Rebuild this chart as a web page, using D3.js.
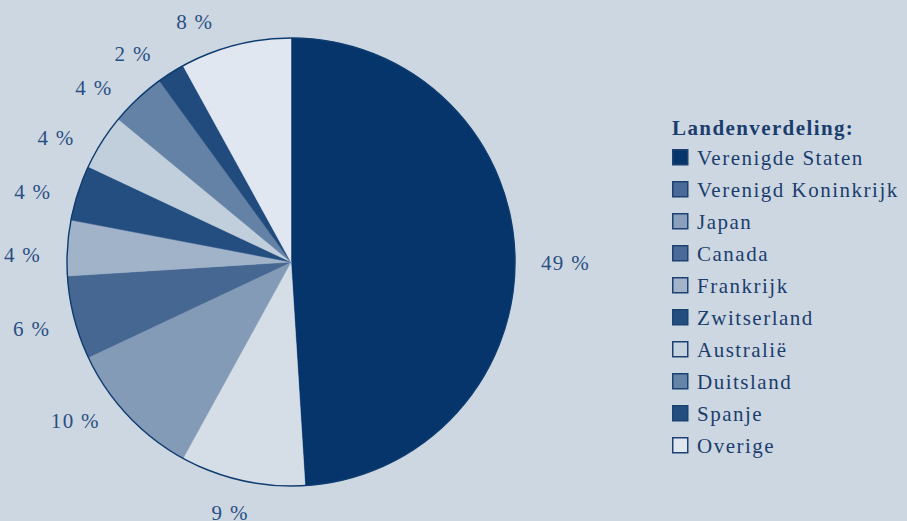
<!DOCTYPE html>
<html>
<head>
<meta charset="utf-8">
<script src="https://cdn.jsdelivr.net/npm/d3@7"></script>
<style>
  html, body { margin: 0; padding: 0; background: #cdd7e1; }
  svg { display: block; }
  text { font-family: "Liberation Serif", "Times New Roman", "DejaVu Serif", serif; }
</style>
</head>
<body>
<svg id="chart" width="907" height="521"></svg>
<script>
// Country breakdown (percent of total)
const countries = ["Verenigde Staten", "Verenigd Koninkrijk", "Japan", "Canada", "Frankrijk",
                   "Zwitserland", "Australië", "Duitsland", "Spanje", "Overige"];
const shares = [49, 9, 10, 6, 4, 4, 4, 4, 2, 8];
const sliceColors = ["#06356b", "#d5dee7", "#849bb8", "#456791", "#a1b3c9",
                     "#244e80", "#c1cedc", "#6382a6", "#214b7c", "#e0e7f0"];
const swatchColors = ["#06356b", "#4a6b97", "#8aa0bc", "#4a6b97", "#a3b4ca",
                      "#244e80", "#c6d2df", "#6683a8", "#244e80", "#e0e7f0"];
const legendTitle = "Landenverdeling:";

// small angular nudges (degrees) so the percentage labels sit clear of each other
const labelNudgeDeg = [2, 0.5, 5, -0.7, -2, -2, -3.4, -4, -3.6, -6.6];

const svg = d3.select("#chart");
const cx = 291, cy = 262, radius = 224, labelGap = 250;

const data = countries.map((c, i) => ({
  country: c, value: shares[i], fill: sliceColors[i], swatch: swatchColors[i], nudge: labelNudgeDeg[i]
}));

const pie = d3.pie().value(d => d.value).sort(null);
const arcs = pie(data);
const arc = d3.arc().innerRadius(0).outerRadius(radius);

const g = svg.append("g").attr("transform", `translate(${cx},${cy})`);

g.selectAll("path.slice")
  .data(arcs)
  .join("path")
  .attr("class", "slice")
  .attr("d", arc)
  .attr("fill", d => d.data.fill)
  .attr("stroke", d => d.data.fill)
  .attr("stroke-width", 0.5);

// thin outline around the pie
g.append("circle")
  .attr("r", radius)
  .attr("fill", "none")
  .attr("stroke", "#0f3c70")
  .attr("stroke-width", 1.4);

// percentage labels outside the pie: anchor point on a ring, then push the
// text box outward by half its width/height along the slice direction
const labels = g.selectAll("text.pct")
  .data(arcs)
  .join("text")
  .attr("class", "pct")
  .attr("text-anchor", "middle")
  .attr("dy", "0.35em")
  .attr("font-size", 21)
  .attr("letter-spacing", 1.3)
  .attr("fill", "#2a4f84")
  .text(d => `${d.data.value} %`);

labels.attr("transform", function (d) {
  const a = (d.startAngle + d.endAngle) / 2 + d.data.nudge * Math.PI / 180;
  const w = this.getComputedTextLength();
  const halfH = 7;
  const s = Math.sin(a), c = -Math.cos(a);
  return `translate(${labelGap * s + (w / 2) * s},${labelGap * c + halfH * c})`;
});

// legend
const lx = 672, titleY = 135, firstY = 165, step = 32;
const legend = svg.append("g");
legend.append("text")
  .attr("x", lx).attr("y", titleY)
  .attr("font-size", 21)
  .attr("font-weight", "bold")
  .attr("letter-spacing", 1.4)
  .attr("fill", "#1b3d6e")
  .text(legendTitle);

const items = legend.selectAll("g.item")
  .data(data)
  .join("g")
  .attr("class", "item")
  .attr("transform", (d, i) => `translate(${lx},${firstY + i * step})`);

items.append("rect")
  .attr("x", 0.75).attr("y", -15.25)
  .attr("width", 15).attr("height", 15)
  .attr("fill", d => d.swatch)
  .attr("stroke", "#1c4173")
  .attr("stroke-width", 1.5);

items.append("text")
  .attr("x", 25).attr("y", 0)
  .attr("font-size", 21)
  .attr("letter-spacing", 1.5)
  .attr("fill", "#1b3d6e")
  .text(d => d.country);
</script>
</body>
</html>
